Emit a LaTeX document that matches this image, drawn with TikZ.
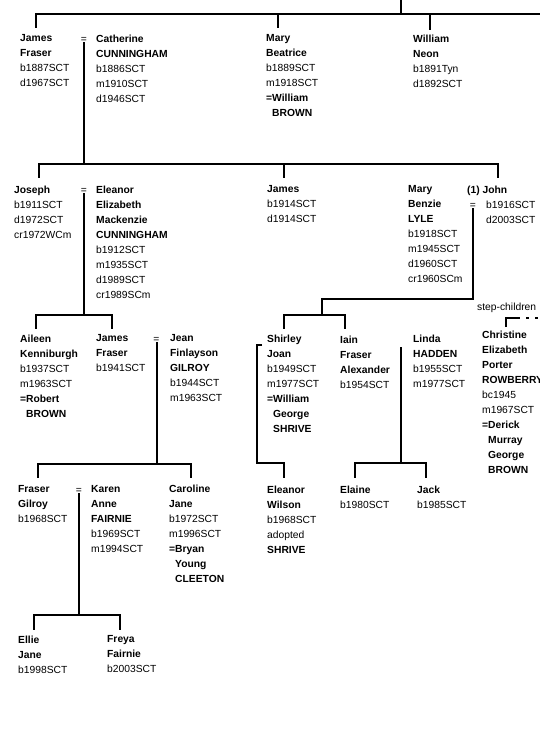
\documentclass[tikz,border=0pt]{standalone}
\usepackage{fontspec}
\setmainfont{Liberation Sans}
\usepackage{tikz}
\usetikzlibrary{calc}

\begin{document}
\begin{tikzpicture}[
  x=1pt, y=-1pt,
  person/.style={anchor=north west, yshift=7.4pt, inner sep=0pt, align=left, font=\fontsize{10.3}{15}\selectfont},
  marr/.style={anchor=base, inner sep=0pt, font=\fontsize{10.3}{15}\selectfont},
  note/.style={anchor=base west, inner sep=0pt, font=\fontsize{10.3}{15}\selectfont},
  tree/.style={line width=2pt}
]
\useasboundingbox (0,0) rectangle (540,740);

% generation 1
\node[person] (jamesF) at (20,42) {\textbf{James}\\\textbf{Fraser}\\b1887SCT\\d1967SCT};
\node[marr] (m1) at (84,42) {=};
\node[person] (catherine) at (96,42) {\textbf{Catherine}\\\textbf{CUNNINGHAM}\\b1886SCT\\m1910SCT\\d1946SCT};
\node[person] (maryB) at (266,42) {\textbf{Mary}\\\textbf{Beatrice}\\b1889SCT\\m1918SCT\\\textbf{=William}\\\textbf{\hspace*{6pt}BROWN}};
\node[person] (williamN) at (413,42) {\textbf{William}\\\textbf{Neon}\\b1891Tyn\\d1892SCT};

\coordinate (top) at (401,0);
\coordinate (f1) at (401,14);
\coordinate (edge1) at (541,14);
\draw[tree] (top) -- (f1) -- (edge1);
\draw[tree] (f1) -| ([shift={(16,-6.6)}]jamesF.north west);
\draw[tree] (f1) -| ([shift={(12,-6.6)}]maryB.north west);
\draw[tree] (f1) -| ([shift={(17,-4.6)}]williamN.north west);

% generation 2
\node[person] (joseph) at (14,193) {\textbf{Joseph}\\b1911SCT\\d1972SCT\\cr1972WCm};
\node[marr] (m2) at (84,193) {=};
\node[person] (eleanorE) at (96,193) {\textbf{Eleanor}\\\textbf{Elizabeth}\\\textbf{Mackenzie}\\\textbf{CUNNINGHAM}\\b1912SCT\\m1935SCT\\d1989SCT\\cr1989SCm};
\node[person] (james2) at (267,193) {\textbf{James}\\b1914SCT\\d1914SCT};
\node[person] (maryL) at (408,193) {\textbf{Mary}\\\textbf{Benzie}\\\textbf{LYLE}\\b1918SCT\\m1945SCT\\d1960SCT\\cr1960SCm};
\node[person] (john) at (467,193) {\textbf{(1) John}\\\hspace*{19pt}b1916SCT\\\hspace*{19pt}d2003SCT};
\node[marr] (m3) at (473,208) {=};

\coordinate (f2) at (84,164);
\draw[tree] (m1.south) -- (f2);
\draw[tree] (f2) -| ([shift={(25,-7.6)}]joseph.north west);
\draw[tree] (f2) -| ([shift={(17,-7.6)}]james2.north west);
\draw[tree] (f2) -| ([shift={(31,-7.6)}]john.north west);

% generation 3
\node[person] (aileen) at (20,342) {\textbf{Aileen}\\\textbf{Kenniburgh}\\b1937SCT\\m1963SCT\\\textbf{=Robert}\\\textbf{\hspace*{6pt}BROWN}};
\node[person] (jamesF2) at (96,342) {\textbf{James}\\\textbf{Fraser}\\b1941SCT};
\node[marr] (m4) at (156.5,342) {=};
\node[person] (jean) at (170,342) {\textbf{Jean}\\\textbf{Finlayson}\\\textbf{GILROY}\\b1944SCT\\m1963SCT};
\node[person] (shirley) at (267,342) {\textbf{Shirley}\\\textbf{Joan}\\b1949SCT\\m1977SCT\\\textbf{=William}\\\textbf{\hspace*{6pt}George}\\\textbf{\hspace*{6pt}SHRIVE}};
\node[person] (iain) at (340,343) {\textbf{Iain}\\\textbf{Fraser}\\\textbf{Alexander}\\b1954SCT};
\node[person] (linda) at (413,342) {\textbf{Linda}\\\textbf{HADDEN}\\b1955SCT\\m1977SCT};
\node[note] (steplabel) at (477,310) {step-children};
\node[person] (christine) at (482,338) {\textbf{Christine}\\\textbf{Elizabeth}\\\textbf{Porter}\\\textbf{ROWBERRY}\\bc1945\\m1967SCT\\\textbf{=Derick}\\\textbf{\hspace*{6pt}Murray}\\\textbf{\hspace*{6pt}George}\\\textbf{\hspace*{6pt}BROWN}};

\coordinate (f2b) at (84,315);
\draw[tree] (m2.south) -- (f2b);
\draw[tree] (f2b) -| ([shift={(16,-5.6)}]aileen.north west);
\draw[tree] (f2b) -| ([shift={(16,-5.6)}]jamesF2.north west);

\coordinate (k3) at (473,299);
\coordinate (f3) at (322,315);
\draw[tree] (m3.south) -- (k3) -| (f3);
\draw[tree] (f3) -| ([shift={(17,-5.6)}]shirley.north west);
\draw[tree] (f3) -| ([shift={(5,-6.6)}]iain.north west);

\coordinate (stepR) at (541,318);
\draw[tree] ([shift={(24,-3.6)}]christine.north west) -- ++(0,-9) -- ++(14,0) coordinate (s2);
\draw[tree, dash pattern=on 3pt off 6pt, dash phase=3pt] (s2) -- (stepR);

% generation 4
\node[person] (fraserG) at (18,493) {\textbf{Fraser}\\\textbf{Gilroy}\\b1968SCT};
\node[marr] (m5) at (79,493) {=};
\node[person] (karen) at (91,493) {\textbf{Karen}\\\textbf{Anne}\\\textbf{FAIRNIE}\\b1969SCT\\m1994SCT};
\node[person] (caroline) at (169,492) {\textbf{Caroline}\\\textbf{Jane}\\b1972SCT\\m1996SCT\\\textbf{=Bryan}\\\textbf{\hspace*{6pt}Young}\\\textbf{\hspace*{6pt}CLEETON}};
\node[person] (eleanorW) at (267,493) {\textbf{Eleanor}\\\textbf{Wilson}\\b1968SCT\\adopted\\\textbf{SHRIVE}};
\node[person] (elaine) at (340,493) {\textbf{Elaine}\\b1980SCT};
\node[person] (jack) at (417,493) {\textbf{Jack}\\b1985SCT};

\coordinate (f4) at (156.5,464);
\draw[tree] (m4.south) -- (f4);
\draw[tree] (f4) -| ([shift={(20,-7.6)}]fraserG.north west);
\draw[tree] (f4) -| ([shift={(22,-6.6)}]caroline.north west);

\coordinate (a5) at (284,463);
\draw[tree] ([shift={(-5,10.4)}]shirley.north west) -- ++(-5,0) |- (a5) -- ([shift={(17,-7.6)}]eleanorW.north west);

\coordinate (m6) at (401,347);
\coordinate (f6) at (401,463);
\draw[tree] (m6) -- (f6);
\draw[tree] (f6) -| ([shift={(15,-7.6)}]elaine.north west);
\draw[tree] (f6) -| ([shift={(9,-7.6)}]jack.north west);

% generation 5
\node[person] (ellie) at (18,643) {\textbf{Ellie}\\\textbf{Jane}\\b1998SCT};
\node[person] (freya) at (107,643) {\textbf{Freya}\\\textbf{Fairnie}\\b2003SCT};

\coordinate (f7) at (79,615);
\draw[tree] (m5.south) -- (f7);
\draw[tree] (f7) -| ([shift={(16,-5.6)}]ellie.north west);
\draw[tree] (f7) -| ([shift={(13,-5.6)}]freya.north west);
\end{tikzpicture}
\end{document}
